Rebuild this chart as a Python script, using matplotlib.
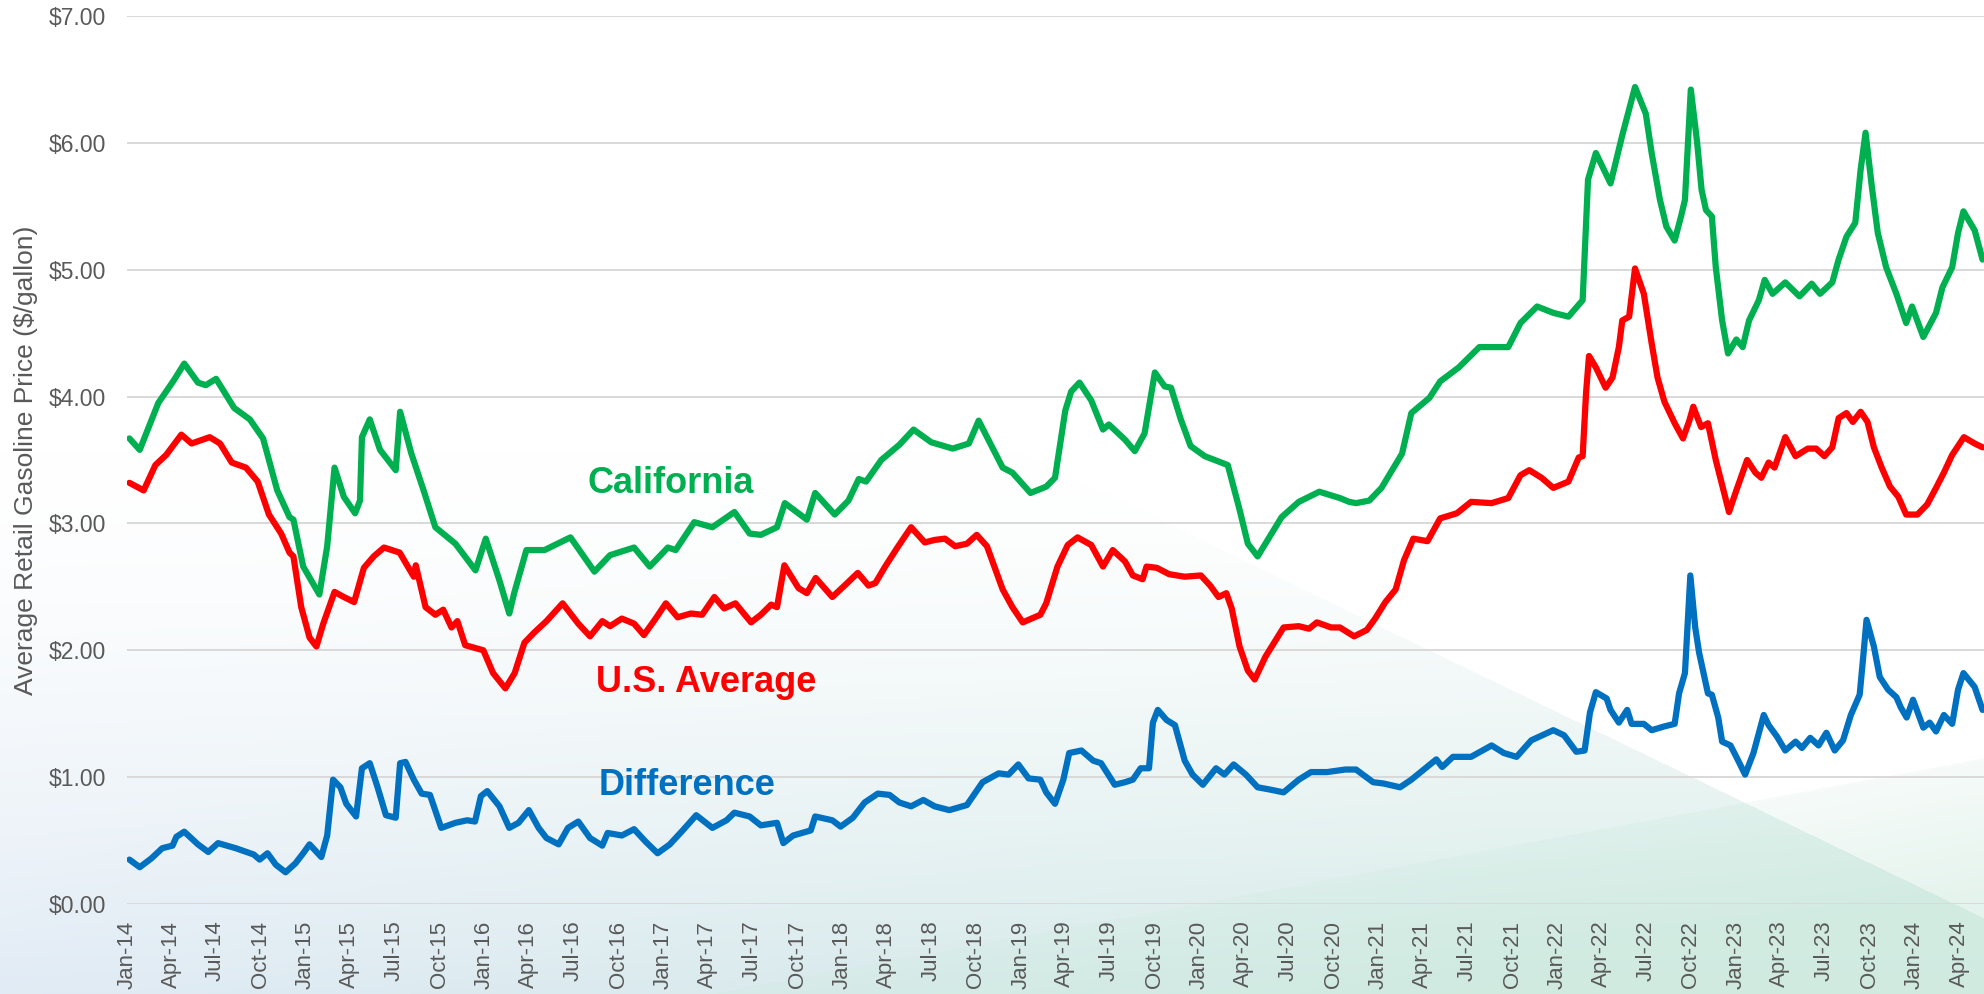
import numpy as np
import pandas as pd
import matplotlib
matplotlib.use('Agg')
import matplotlib.pyplot as plt
import matplotlib.dates as mdates
from matplotlib.ticker import FuncFormatter

plt.rcParams['font.family'] = ['Liberation Sans', 'DejaVu Sans']

# ========================================
# Data
# ========================================

ca_dates = ['2014-01-06', '2014-01-27', '2014-03-06', '2014-04-07', '2014-04-28', '2014-05-26', '2014-06-11',
            '2014-07-02', '2014-08-08', '2014-09-09', '2014-10-06', '2014-11-04', '2014-11-29', '2014-12-07',
            '2014-12-27', '2015-01-29', '2015-02-14', '2015-03-01', '2015-03-20', '2015-04-12', '2015-04-22',
            '2015-04-26', '2015-05-12', '2015-06-02', '2015-07-04', '2015-07-13', '2015-08-05', '2015-08-30',
            '2015-09-23', '2015-11-03', '2015-12-14', '2016-01-04', '2016-02-01', '2016-02-21', '2016-03-02',
            '2016-03-27', '2016-05-03', '2016-06-25', '2016-08-13', '2016-09-14', '2016-11-02', '2016-12-04',
            '2017-01-10', '2017-01-26', '2017-03-05', '2017-04-11', '2017-05-26', '2017-06-26', '2017-07-19',
            '2017-08-21', '2017-09-06', '2017-10-21', '2017-11-07', '2017-12-17', '2018-01-14', '2018-02-04',
            '2018-02-19', '2018-03-22', '2018-04-28', '2018-05-27', '2018-07-02', '2018-08-15', '2018-09-17',
            '2018-10-07', '2018-11-25', '2018-12-15', '2019-01-21', '2019-02-22', '2019-03-12', '2019-04-02',
            '2019-04-14', '2019-05-01', '2019-05-25', '2019-06-18', '2019-06-30', '2019-08-02', '2019-08-22',
            '2019-09-11', '2019-10-02', '2019-10-22', '2019-11-04', '2019-11-24', '2019-12-14', '2020-01-12',
            '2020-02-28', '2020-03-23', '2020-04-09', '2020-04-29', '2020-06-17', '2020-07-22', '2020-09-02',
            '2020-10-14', '2020-11-02', '2020-11-16', '2020-12-13', '2021-01-07', '2021-02-18', '2021-03-09',
            '2021-04-15', '2021-05-07', '2021-06-14', '2021-07-26', '2021-09-23', '2021-10-18', '2021-11-21',
            '2021-12-24', '2022-01-24', '2022-02-22', '2022-03-05', '2022-03-21', '2022-04-20', '2022-05-14',
            '2022-06-09', '2022-07-01', '2022-07-13', '2022-07-30', '2022-08-12', '2022-08-29', '2022-09-11',
            '2022-09-19', '2022-10-01', '2022-10-14', '2022-10-23', '2022-11-01', '2022-11-13', '2022-11-21',
            '2022-12-04', '2022-12-16', '2023-01-02', '2023-01-15', '2023-01-28', '2023-02-17', '2023-03-01',
            '2023-03-17', '2023-04-12', '2023-05-11', '2023-06-05', '2023-06-22', '2023-07-17', '2023-07-30',
            '2023-08-15', '2023-09-02', '2023-09-13', '2023-09-23', '2023-10-06', '2023-10-18', '2023-11-04',
            '2023-11-25', '2023-12-15', '2023-12-27', '2024-01-19', '2024-02-14', '2024-02-27', '2024-03-18',
            '2024-03-30', '2024-04-10', '2024-05-03', '2024-05-19']
ca_price = [3.67, 3.58, 3.95, 4.13, 4.26, 4.11, 4.09, 4.14, 3.91, 3.82, 3.67, 3.26, 3.05, 3.03,
            2.66, 2.44, 2.82, 3.44, 3.21, 3.08, 3.18, 3.68, 3.82, 3.58, 3.42, 3.88, 3.55, 3.26,
            2.97, 2.84, 2.63, 2.88, 2.55, 2.29, 2.45, 2.79, 2.79, 2.89, 2.62, 2.75, 2.81, 2.66,
            2.81, 2.79, 3.01, 2.97, 3.09, 2.92, 2.91, 2.97, 3.16, 3.03, 3.24, 3.07, 3.18, 3.35,
            3.33, 3.50, 3.62, 3.74, 3.64, 3.59, 3.63, 3.81, 3.44, 3.40, 3.24, 3.29, 3.36, 3.89,
            4.04, 4.11, 3.97, 3.74, 3.78, 3.66, 3.57, 3.71, 4.19, 4.08, 4.07, 3.82, 3.61, 3.53,
            3.46, 3.11, 2.84, 2.74, 3.05, 3.17, 3.25, 3.20, 3.17, 3.16, 3.18, 3.28, 3.55, 3.87,
            3.99, 4.12, 4.23, 4.39, 4.39, 4.58, 4.71, 4.66, 4.63, 4.76, 5.71, 5.92, 5.68, 6.06,
            6.44, 6.23, 5.92, 5.55, 5.34, 5.23, 5.42, 5.55, 6.42, 6.00, 5.63, 5.47, 5.42, 5.02,
            4.60, 4.34, 4.45, 4.39, 4.60, 4.76, 4.92, 4.81, 4.90, 4.79, 4.89, 4.81, 4.90, 5.08,
            5.26, 5.37, 5.79, 6.08, 5.65, 5.29, 5.02, 4.81, 4.58, 4.71, 4.47, 4.66, 4.86, 5.02,
            5.29, 5.46, 5.31, 5.08]

us_dates = ['2014-01-06', '2014-02-04', '2014-02-28', '2014-03-22', '2014-04-22', '2014-05-13', '2014-06-19',
            '2014-07-10', '2014-08-03', '2014-09-01', '2014-09-25', '2014-10-18', '2014-11-12', '2014-11-29',
            '2014-12-07', '2014-12-23', '2015-01-09', '2015-01-23', '2015-02-06', '2015-03-01', '2015-03-20',
            '2015-04-10', '2015-04-30', '2015-05-20', '2015-06-10', '2015-07-12', '2015-08-10', '2015-08-14',
            '2015-09-03', '2015-09-23', '2015-10-09', '2015-10-26', '2015-11-07', '2015-11-23', '2015-12-30',
            '2016-01-19', '2016-02-13', '2016-03-03', '2016-03-23', '2016-04-12', '2016-05-07', '2016-06-09',
            '2016-07-11', '2016-08-04', '2016-08-29', '2016-09-14', '2016-10-08', '2016-11-02', '2016-11-22',
            '2016-12-16', '2017-01-06', '2017-01-30', '2017-02-26', '2017-03-21', '2017-04-15', '2017-05-05',
            '2017-05-28', '2017-06-29', '2017-07-19', '2017-08-09', '2017-08-21', '2017-09-05', '2017-10-04',
            '2017-10-21', '2017-11-08', '2017-12-12', '2018-01-06', '2018-02-02', '2018-02-24', '2018-03-10',
            '2018-03-30', '2018-04-24', '2018-05-22', '2018-06-19', '2018-07-09', '2018-07-30', '2018-08-20',
            '2018-09-13', '2018-10-03', '2018-10-24', '2018-11-25', '2018-12-15', '2019-01-05', '2019-02-10',
            '2019-02-22', '2019-03-17', '2019-04-07', '2019-04-27', '2019-05-25', '2019-06-18', '2019-07-08',
            '2019-08-02', '2019-08-18', '2019-09-07', '2019-09-15', '2019-10-06', '2019-10-31', '2019-12-02',
            '2020-01-04', '2020-01-23', '2020-02-09', '2020-02-25', '2020-03-07', '2020-03-23', '2020-04-09',
            '2020-04-23', '2020-05-15', '2020-06-05', '2020-06-21', '2020-07-22', '2020-08-12', '2020-08-28',
            '2020-09-26', '2020-10-14', '2020-11-12', '2020-12-08', '2020-12-25', '2021-01-15', '2021-02-05',
            '2021-02-22', '2021-03-13', '2021-04-11', '2021-05-07', '2021-06-10', '2021-07-09', '2021-08-20',
            '2021-09-23', '2021-10-18', '2021-11-05', '2021-11-30', '2021-12-24', '2022-01-24', '2022-02-14',
            '2022-02-22', '2022-03-01', '2022-03-07', '2022-03-21', '2022-04-10', '2022-04-24', '2022-05-07',
            '2022-05-14', '2022-05-28', '2022-06-09', '2022-06-27', '2022-07-13', '2022-07-25', '2022-08-08',
            '2022-08-29', '2022-09-15', '2022-09-28', '2022-10-06', '2022-10-22', '2022-11-05', '2022-11-21',
            '2022-12-08', '2022-12-18', '2023-01-02', '2023-01-24', '2023-02-10', '2023-02-22', '2023-03-09',
            '2023-03-21', '2023-04-12', '2023-05-03', '2023-05-28', '2023-06-14', '2023-07-01', '2023-07-17',
            '2023-07-30', '2023-08-15', '2023-08-28', '2023-09-13', '2023-09-27', '2023-10-10', '2023-10-26',
            '2023-11-12', '2023-11-29', '2023-12-15', '2024-01-07', '2024-01-27', '2024-02-14', '2024-03-01',
            '2024-03-18', '2024-04-11', '2024-05-03', '2024-05-19']
us_price = [3.32, 3.26, 3.46, 3.54, 3.70, 3.63, 3.68, 3.63, 3.48, 3.44, 3.33, 3.07, 2.92, 2.77,
            2.74, 2.34, 2.10, 2.03, 2.21, 2.46, 2.42, 2.38, 2.65, 2.74, 2.81, 2.77, 2.58, 2.67,
            2.34, 2.28, 2.32, 2.18, 2.23, 2.04, 2.00, 1.82, 1.70, 1.82, 2.06, 2.14, 2.23, 2.37,
            2.21, 2.11, 2.23, 2.19, 2.25, 2.21, 2.12, 2.25, 2.37, 2.26, 2.29, 2.28, 2.42, 2.33,
            2.37, 2.22, 2.28, 2.36, 2.34, 2.67, 2.49, 2.45, 2.57, 2.42, 2.51, 2.61, 2.51, 2.53,
            2.66, 2.81, 2.97, 2.85, 2.87, 2.88, 2.82, 2.84, 2.91, 2.82, 2.48, 2.34, 2.22, 2.28,
            2.37, 2.66, 2.83, 2.89, 2.83, 2.66, 2.79, 2.70, 2.59, 2.56, 2.66, 2.65, 2.60, 2.58,
            2.59, 2.51, 2.42, 2.45, 2.33, 2.03, 1.84, 1.77, 1.95, 2.08, 2.18, 2.19, 2.17, 2.22,
            2.18, 2.18, 2.11, 2.16, 2.25, 2.38, 2.48, 2.71, 2.88, 2.86, 3.04, 3.08, 3.17, 3.16,
            3.20, 3.38, 3.42, 3.36, 3.28, 3.33, 3.52, 3.53, 4.03, 4.32, 4.23, 4.07, 4.15, 4.39,
            4.60, 4.63, 5.01, 4.81, 4.42, 4.15, 3.96, 3.79, 3.67, 3.81, 3.92, 3.76, 3.79, 3.50,
            3.24, 3.09, 3.26, 3.50, 3.40, 3.36, 3.48, 3.44, 3.68, 3.53, 3.59, 3.59, 3.53, 3.60,
            3.83, 3.87, 3.80, 3.88, 3.80, 3.60, 3.44, 3.29, 3.21, 3.07, 3.07, 3.15, 3.28, 3.40,
            3.54, 3.68, 3.63, 3.60]

diff_dates = ['2014-01-06', '2014-01-27', '2014-02-20', '2014-03-14', '2014-04-04', '2014-04-12', '2014-04-28',
              '2014-05-26', '2014-06-16', '2014-07-06', '2014-08-11', '2014-09-17', '2014-09-29', '2014-10-15',
              '2014-11-01', '2014-11-21', '2014-12-11', '2014-12-27', '2015-01-09', '2015-02-02', '2015-02-14',
              '2015-02-26', '2015-03-13', '2015-03-25', '2015-04-14', '2015-04-26', '2015-05-12', '2015-05-28',
              '2015-06-14', '2015-07-04', '2015-07-13', '2015-07-24', '2015-08-10', '2015-08-26', '2015-09-12',
              '2015-10-05', '2015-11-03', '2015-11-27', '2015-12-13', '2015-12-25', '2016-01-07', '2016-02-01',
              '2016-02-21', '2016-03-11', '2016-04-01', '2016-04-21', '2016-05-07', '2016-06-01', '2016-06-20',
              '2016-07-11', '2016-08-04', '2016-08-29', '2016-09-09', '2016-10-08', '2016-11-02', '2016-11-26',
              '2016-12-20', '2017-01-14', '2017-02-07', '2017-03-09', '2017-04-11', '2017-05-10', '2017-05-26',
              '2017-06-26', '2017-07-19', '2017-08-21', '2017-09-03', '2017-09-23', '2017-10-29', '2017-11-07',
              '2017-12-12', '2017-12-29', '2018-01-23', '2018-02-16', '2018-03-15', '2018-04-08', '2018-04-28',
              '2018-05-22', '2018-06-16', '2018-07-09', '2018-08-08', '2018-09-13', '2018-10-15', '2018-11-17',
              '2018-12-07', '2018-12-27', '2019-01-17', '2019-02-10', '2019-02-22', '2019-03-12', '2019-03-29',
              '2019-04-10', '2019-05-05', '2019-05-29', '2019-06-14', '2019-07-12', '2019-08-02', '2019-08-18',
              '2019-09-03', '2019-09-20', '2019-09-28', '2019-10-08', '2019-10-26', '2019-11-12', '2019-12-02',
              '2019-12-18', '2020-01-08', '2020-02-04', '2020-02-21', '2020-03-11', '2020-04-05', '2020-04-29',
              '2020-05-27', '2020-06-21', '2020-07-22', '2020-08-16', '2020-09-18', '2020-10-25', '2020-11-16',
              '2020-12-21', '2021-01-11', '2021-02-14', '2021-03-09', '2021-04-29', '2021-05-11', '2021-06-02',
              '2021-07-09', '2021-08-20', '2021-09-14', '2021-10-10', '2021-11-09', '2021-12-24', '2022-01-15',
              '2022-02-09', '2022-02-26', '2022-03-09', '2022-03-21', '2022-04-12', '2022-04-20', '2022-05-07',
              '2022-05-24', '2022-06-02', '2022-06-27', '2022-07-13', '2022-08-08', '2022-08-29', '2022-09-07',
              '2022-09-19', '2022-09-30', '2022-10-10', '2022-10-18', '2022-11-05', '2022-11-13', '2022-11-26',
              '2022-12-04', '2022-12-21', '2023-01-02', '2023-01-20', '2023-02-06', '2023-02-27', '2023-03-09',
              '2023-03-26', '2023-04-12', '2023-05-03', '2023-05-16', '2023-06-02', '2023-06-19', '2023-07-05',
              '2023-07-22', '2023-08-08', '2023-08-24', '2023-09-11', '2023-09-19', '2023-09-25', '2023-10-10',
              '2023-10-22', '2023-11-08', '2023-11-25', '2023-12-04', '2023-12-16', '2023-12-29', '2024-01-19',
              '2024-02-01', '2024-02-14', '2024-03-01', '2024-03-18', '2024-03-30', '2024-04-10', '2024-05-03',
              '2024-05-19']
diff_value = [0.35, 0.29, 0.36, 0.44, 0.46, 0.53, 0.57, 0.47, 0.41, 0.48, 0.44, 0.39, 0.35, 0.40,
              0.31, 0.25, 0.32, 0.40, 0.47, 0.37, 0.54, 0.98, 0.92, 0.79, 0.69, 1.07, 1.11, 0.92,
              0.70, 0.68, 1.11, 1.12, 0.98, 0.87, 0.86, 0.60, 0.64, 0.66, 0.65, 0.85, 0.89, 0.77,
              0.60, 0.64, 0.74, 0.60, 0.52, 0.47, 0.60, 0.65, 0.52, 0.46, 0.56, 0.54, 0.59, 0.49,
              0.40, 0.47, 0.57, 0.70, 0.60, 0.66, 0.72, 0.69, 0.62, 0.64, 0.48, 0.54, 0.58, 0.69,
              0.66, 0.61, 0.68, 0.80, 0.87, 0.86, 0.80, 0.77, 0.82, 0.77, 0.74, 0.78, 0.96, 1.03,
              1.02, 1.10, 0.99, 0.98, 0.88, 0.79, 0.98, 1.19, 1.21, 1.13, 1.11, 0.94, 0.96, 0.98,
              1.07, 1.07, 1.43, 1.53, 1.45, 1.41, 1.13, 1.02, 0.94, 1.07, 1.02, 1.10, 1.02, 0.92,
              0.90, 0.88, 0.98, 1.04, 1.04, 1.06, 1.06, 0.96, 0.95, 0.92, 0.98, 1.14, 1.08, 1.16,
              1.16, 1.25, 1.19, 1.16, 1.29, 1.37, 1.33, 1.20, 1.21, 1.51, 1.67, 1.62, 1.53, 1.43,
              1.53, 1.42, 1.42, 1.37, 1.40, 1.42, 1.66, 1.82, 2.59, 2.18, 1.98, 1.66, 1.65, 1.47,
              1.28, 1.25, 1.16, 1.02, 1.19, 1.49, 1.41, 1.32, 1.21, 1.28, 1.23, 1.31, 1.25, 1.35,
              1.21, 1.29, 1.49, 1.65, 1.98, 2.24, 2.03, 1.79, 1.69, 1.63, 1.55, 1.47, 1.61, 1.39,
              1.43, 1.36, 1.49, 1.42, 1.69, 1.82, 1.71, 1.53]

series_names = ['California', 'U.S. Average', 'Difference']
series_colors = ['#00B050', '#FF0000', '#0070C0']
# label anchors (left edge, baseline)
label_dates = ['2016-07-29', '2016-08-16', '2016-08-22']
label_values = [3.24, 1.67, 0.86]

y_ticks = [0, 1, 2, 3, 4, 5, 6, 7]

# ========================================
# Figure
# ========================================

W, H = 1984, 994
fig = plt.figure(figsize=(W / 100, H / 100), dpi=100)

# slide-style background: pale blue wash at the bottom left, green wedge at the bottom right
xx, yy = np.meshgrid(np.arange(W), np.arange(H))
fall = 607 + 0.483 * (xx - 1340)
rise = 994 - 0.185 * (xx - 708)
bg = np.ones((H, W, 3))
t = (np.clip((yy - 450) / 544.0, 0, 1) ** 1.5)[..., None]
fx = np.clip(xx / 1500.0, 0, 1)[..., None]
tint = (1 - fx) * np.array([225, 235, 245]) / 255 + fx * np.array([210, 233, 229]) / 255
left_wash = 1 - t * (1 - tint)
bg = np.where((yy > fall)[..., None], left_wash, bg)
s = np.clip((yy - rise) / 140.0, 0, 1)[..., None]
green = np.array([208, 235, 224]) / 255
light_green = np.array([226, 242, 235]) / 255
g_left = bg * (1 - (0.3 + 0.55 * s)) + green * (0.3 + 0.55 * s)
g_right = 1 * (1 - (0.3 + 0.6 * s)) + light_green * (0.3 + 0.6 * s)
bg = np.where(((yy > rise) & (yy > fall))[..., None], g_left, bg)
bg = np.where(((yy > rise) & (yy <= fall))[..., None], g_right, bg)

bax = fig.add_axes([0, 0, 1, 1], zorder=0)
bax.imshow(bg, aspect='auto', interpolation='bilinear')
bax.axis('off')

ax = fig.add_axes([127 / W, 90 / H, 1857 / W, 888 / H], zorder=1)
ax.set_facecolor('none')

series = [(ca_dates, ca_price), (us_dates, us_price), (diff_dates, diff_value)]
for (d, v), name, c in zip(series, series_names, series_colors):
    ax.plot(pd.to_datetime(d), v, color=c, lw=4.5, solid_joinstyle='round',
            solid_capstyle='round', zorder=3, label=name)

for name, c, d, v in zip(series_names, series_colors, label_dates, label_values):
    ax.text(pd.Timestamp(d), v, name, color=c, fontsize=26, fontweight='bold',
            ha='left', va='baseline', zorder=4)

ax.set_xlim(pd.Timestamp('2014-01-01'), pd.Timestamp('2024-05-22'))
ax.set_ylim(0, 7)
ax.set_yticks(y_ticks)
ax.yaxis.set_major_formatter(FuncFormatter(lambda v, p: '${:.2f}'.format(v)))
ax.xaxis.set_major_locator(mdates.MonthLocator(bymonth=[1, 4, 7, 10]))
ax.xaxis.set_major_formatter(mdates.DateFormatter('%b-%y'))

ax.grid(axis='y', color='#D9D9D9', lw=1.4, zorder=1)
ax.grid(axis='x', visible=False)
for sp in ax.spines.values():
    sp.set_visible(False)

ax.tick_params(axis='y', length=0, pad=15, labelsize=16.5, labelcolor='#595959')
ax.tick_params(axis='x', length=0, pad=12, labelsize=16, labelcolor='#595959', rotation=90)

fig.text(26 / W, 1 - 460 / H, 'Average Retail Gasoline Price ($/gallon)', rotation=90,
         ha='center', va='center', fontsize=19, color='#595959')

plt.savefig('out.png', dpi=100)
